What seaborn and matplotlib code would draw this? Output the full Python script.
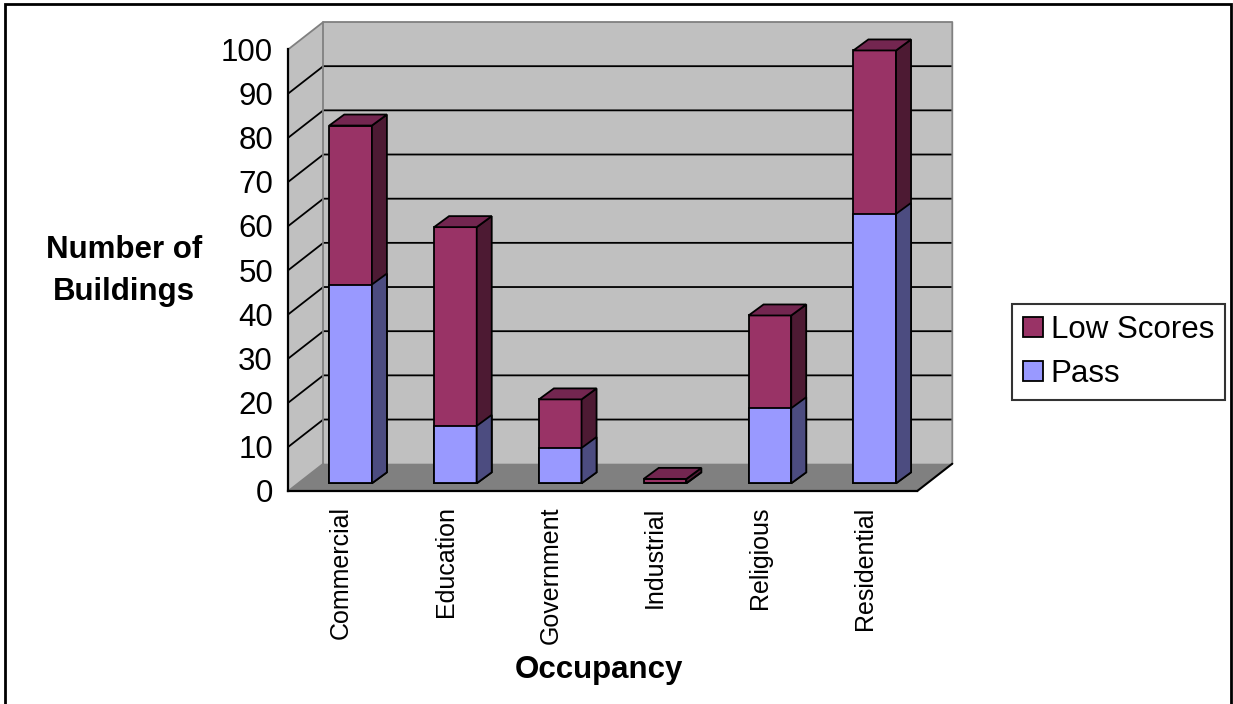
import numpy as np
import pandas as pd
import matplotlib
matplotlib.use("Agg")
import matplotlib.pyplot as plt
import seaborn as sns
from matplotlib.patches import Polygon, Rectangle, Patch
from matplotlib.transforms import Affine2D

# Building counts by occupancy type
occupancy = ["Commercial", "Education", "Government", "Industrial", "Religious", "Residential"]
low_scores = [36, 45, 11, 1, 21, 37]
passed = [45, 13, 8, 0, 17, 61]
y_ticks = list(range(0, 101, 10))
legend_labels = ["Low Scores", "Pass"]

# Colours: front faces, shaded sides and tops
LOW_FRONT, LOW_SIDE, LOW_TOP = "#993366", "#4D1A33", "#732650"
PASS_FRONT, PASS_SIDE = "#9999FF", "#4C4C80"
WALL, FLOOR, FRAME = "#C0C0C0", "#808080", "#808080"

sns.set_style("white")
plt.rcParams["font.family"] = ["Liberation Sans", "DejaVu Sans"]
plt.rcParams.update({"text.color": "black", "axes.labelcolor": "black",
                     "xtick.color": "black", "ytick.color": "black"})

df = pd.DataFrame({"Occupancy": occupancy, "Pass": passed, "Low Scores": low_scores})
df["Total"] = df["Pass"] + df["Low Scores"]

W, H = 1233, 704
fig = plt.figure(figsize=(W / 100, H / 100), dpi=100)

# Pseudo-3D geometry (in data units)
n = len(occupancy)
xl, xr, top = -0.5, n - 0.5, 100
DX, DY = 0.334, 6.18          # depth of the wall box
BOX, BOY = 0.094, 1.74        # bars sit slightly behind the front plane
BDX, BDY = 0.143, 2.49        # depth of each bar
BAR_W = 0.407

X0, X1 = 288.3, 288.3 + 104.83 * (n + DX)
Y0 = 491.0
Y1 = Y0 - 4.417 * (top + DY)
ax = fig.add_axes([X0 / W, 1 - Y0 / H, (X1 - X0) / W, (Y0 - Y1) / H])

# Walls and floor
ax.add_patch(Polygon([(xl, 0), (xl + DX, DY), (xl + DX, top + DY), (xl, top)],
                     closed=True, fc=WALL, ec="none", zorder=0, clip_on=False))
ax.add_patch(Polygon([(xl + DX, DY), (xr + DX, DY), (xr + DX, top + DY), (xl + DX, top + DY)],
                     closed=True, fc=WALL, ec="none", zorder=0, clip_on=False))
ax.add_patch(Polygon([(xl, 0), (xr, 0), (xr + DX, DY), (xl + DX, DY)],
                     closed=True, fc=FLOOR, ec="none", zorder=0.5, clip_on=False))

# Gridlines across the side and back walls
for v in y_ticks[1:-1]:
    ax.plot([xl, xl + DX, xr + DX], [v, v + DY, v + DY], color="black", lw=1.3,
            zorder=1, clip_on=False, solid_capstyle="butt")

# Wall frame
frame_kw = dict(color=FRAME, lw=1.3, zorder=1.2, clip_on=False)
ax.plot([xl, xl + DX, xr + DX, xr + DX], [top, top + DY, top + DY, DY], **frame_kw)
ax.plot([xl + DX, xl + DX], [DY, top + DY], **frame_kw)
ax.plot([xl, xl + DX], [0, DY], **frame_kw)
ax.plot([xr, xr + DX], [0, DY], color="black", lw=1.5, zorder=1.2, clip_on=False)

# Stacked columns: totals first, then the pass portion over them
bar_kw = dict(x="Occupancy", width=BAR_W, saturation=1, errorbar=None,
              edgecolor="black", linewidth=1.3, ax=ax, zorder=3)
sns.barplot(data=df, y="Total", color=LOW_FRONT, **bar_kw)
sns.barplot(data=df, y="Pass", color=PASS_FRONT, **bar_kw)

shift = Affine2D().translate(BOX, BOY) + ax.transData
for k, container in enumerate(ax.containers):
    is_total = k == 0
    for bar in container:
        bar.set_transform(shift)
        bar.set_clip_on(False)
        x0, w, h = bar.get_x(), bar.get_width(), bar.get_height()
        x1 = x0 + w
        side = Polygon([(x1, 0), (x1 + BDX, BDY), (x1 + BDX, h + BDY), (x1, h)], closed=True,
                       fc=LOW_SIDE if is_total else PASS_SIDE, ec="black", lw=1.3,
                       transform=shift, zorder=3.5, clip_on=False)
        ax.add_patch(side)
        if is_total:
            lid = Polygon([(x0, h), (x0 + BDX, h + BDY), (x1 + BDX, h + BDY), (x1, h)],
                          closed=True, fc=LOW_TOP, ec="black", lw=1.3, transform=shift,
                          zorder=3.6, clip_on=False)
            ax.add_patch(lid)

ax.set_xlim(xl, xr + DX)
ax.set_ylim(0, top + DY)
ax.set_xlabel("")
ax.set_ylabel("")
ax.set_facecolor("none")

for s in ("top", "right"):
    ax.spines[s].set_visible(False)
for s in ("left", "bottom"):
    ax.spines[s].set_linewidth(1.6)
    ax.spines[s].set_color("black")
    ax.spines[s].set_zorder(5)
ax.spines["left"].set_bounds(0, top)
ax.spines["bottom"].set_bounds(xl, xr)

ax.set_yticks(y_ticks)
ax.set_yticklabels([str(v) for v in y_ticks])
ax.tick_params(axis="y", direction="out", length=7, width=1.5, pad=4, labelsize=22.5,
               colors="black")

ax.set_xticks(range(n))
ax.set_xticklabels(occupancy, rotation=90, fontsize=18, color="black")
ax.set_xticks(np.arange(xl, xr + 0.01, 1.0), minor=True)
ax.tick_params(axis="x", which="major", length=0, pad=11)
ax.tick_params(axis="x", which="minor", direction="out", length=8, width=1.5)

# Axis titles
fig.text(124 / W, 1 - 271 / H, "Number of\nBuildings", ha="center", va="center",
         fontsize=22.5, fontweight="bold", linespacing=1.5, color="black")
fig.text(599 / W, 1 - 670 / H, "Occupancy", ha="center", va="center",
         fontsize=22.5, fontweight="bold", color="black")

# Legend
handles = [Patch(fc=LOW_FRONT, ec="black", lw=1.3), Patch(fc=PASS_FRONT, ec="black", lw=1.3)]
leg = fig.legend(handles, legend_labels, loc="upper left",
                 bbox_to_anchor=(1011.7 / W, 1 - 304 / H), borderaxespad=0,
                 fontsize=22.5, frameon=True, fancybox=False, handlelength=0.65,
                 handleheight=0.6, handletextpad=0.25, labelspacing=0.45,
                 borderpad=0.35)
leg.get_frame().set_edgecolor("black")
leg.get_frame().set_linewidth(1.5)
for t in leg.get_texts():
    t.set_color("black")

# Outer border of the chart area
fig.add_artist(Rectangle((5 / W, -0.05), (1231 - 5) / W, 1.05 - 4 / H, transform=fig.transFigure,
                         fill=False, ec="black", lw=2, clip_on=False))

fig.savefig("out.png", dpi=100)
